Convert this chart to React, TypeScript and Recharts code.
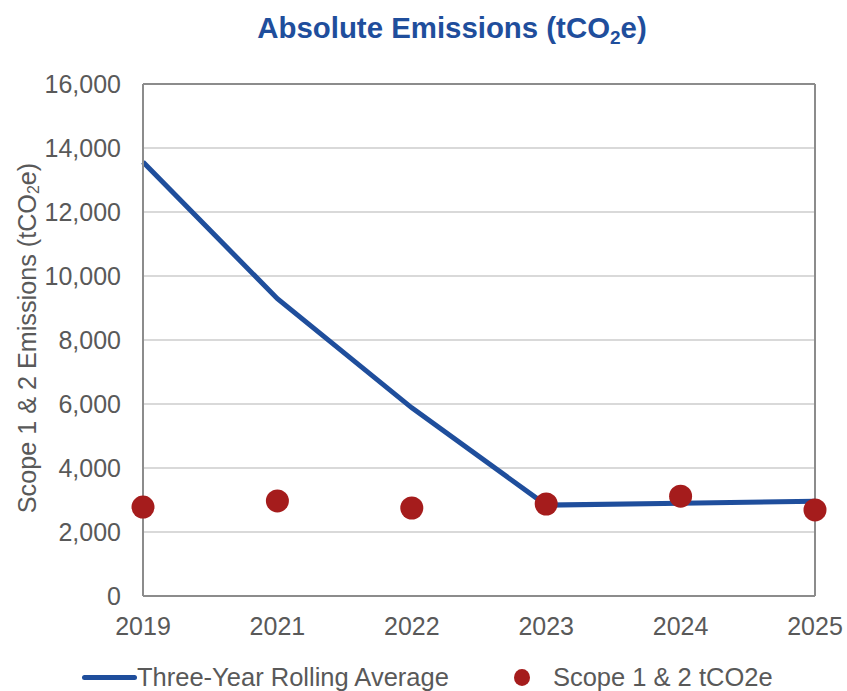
import {
  ComposedChart,
  Line,
  XAxis,
  YAxis,
  CartesianGrid,
  ReferenceLine,
  Label,
} from 'recharts';

const years = ['2019', '2021', '2022', '2023', '2024', '2025'];
const rollingAverage = [13560, 9290, 5880, 2840, 2900, 2960];
const scopeEmissions = [2780, 2970, 2750, 2875, 3120, 2690];
const yTicks = [0, 2000, 4000, 6000, 8000, 10000, 12000, 14000, 16000];

const data = years.map((year, i) => ({
  year,
  rolling: rollingAverage[i],
  scope: scopeEmissions[i],
}));

const FONT = '"Liberation Sans", Arial, sans-serif';
const BLUE = '#1f4e9c';
const RED = '#a51c1c';
const GREY_TEXT = '#595959';
const AXIS = '#8c8c8c';
const GRID = '#d9d9d9';

function YLabel() {
  const cx = 27;
  const cy = 338;
  return (
    <text
      x={cx}
      y={cy}
      transform={`rotate(-90, ${cx}, ${cy})`}
      textAnchor="middle"
      dominantBaseline="central"
      fill={GREY_TEXT}
      fontSize={25.2}
      fontFamily={FONT}
    >
      Scope 1 &amp; 2 Emissions (tCO
      <tspan fontSize={16} dy={6}>2</tspan>
      <tspan dy={-6}>e)</tspan>
    </text>
  );
}

export default function App() {
  return (
    <div
      style={{
        position: 'absolute',
        left: 0,
        top: 0,
        width: 847,
        height: 691,
        background: '#fff',
        fontFamily: FONT,
      }}
    >
      <div
        style={{
          position: 'absolute',
          top: 10,
          left: 0,
          width: 904,
          textAlign: 'center',
          fontSize: 29.4,
          fontWeight: 'bold',
          color: BLUE,
          lineHeight: '36px',
        }}
      >
        Absolute Emissions (tCO<sub style={{ fontSize: 19, verticalAlign: -6, lineHeight: 0 }}>2</sub>e)
      </div>

      <ComposedChart
        width={847}
        height={691}
        data={data}
        margin={{ top: 84, right: 32, bottom: 0, left: 0 }}
      >
        <CartesianGrid horizontal vertical={false} stroke={GRID} strokeWidth={2} />
        <XAxis
          dataKey="year"
          type="category"
          padding={{ left: 0, right: 0 }}
          interval={0}
          height={95}
          tickLine={false}
          tickSize={0}
          tickMargin={21}
          axisLine={{ stroke: AXIS, strokeWidth: 2 }}
          tick={{ fill: GREY_TEXT, fontSize: 25, fontFamily: FONT }}
        />
        <YAxis
          width={143}
          domain={[0, 16000]}
          ticks={yTicks}
          interval={0}
          tickLine={false}
          tickSize={0}
          tickMargin={22}
          axisLine={{ stroke: AXIS, strokeWidth: 2 }}
          tickFormatter={(v: number) => v.toLocaleString('en-US')}
          tick={{ fill: GREY_TEXT, fontSize: 25, fontFamily: FONT }}
        >
          <Label content={<YLabel />} />
        </YAxis>
        <ReferenceLine y={16000} stroke={AXIS} strokeWidth={2} />
        <ReferenceLine x="2025" stroke={AXIS} strokeWidth={2} />
        <Line
          type="linear"
          dataKey="rolling"
          stroke={BLUE}
          strokeWidth={5}
          dot={false}
          activeDot={false}
          isAnimationActive={false}
        />
        <Line
          type="linear"
          dataKey="scope"
          stroke="none"
          dot={{ r: 11.5, fill: RED, stroke: 'none' }}
          activeDot={false}
          isAnimationActive={false}
        />
      </ComposedChart>

      <div
        style={{
          position: 'absolute',
          top: 661,
          left: 82,
          display: 'flex',
          alignItems: 'center',
          fontSize: 25.5,
          color: GREY_TEXT,
          lineHeight: '32px',
          whiteSpace: 'nowrap',
        }}
      >
        <span
          style={{
            display: 'inline-block',
            width: 55,
            height: 5,
            borderRadius: 3,
            background: BLUE,
          }}
        />
        <span>Three-Year Rolling Average</span>
        <span
          style={{
            display: 'inline-block',
            width: 16,
            height: 17,
            borderRadius: '50%',
            background: RED,
            marginLeft: 65,
          }}
        />
        <span style={{ marginLeft: 23 }}>Scope 1 &amp; 2 tCO2e</span>
      </div>
    </div>
  );
}
